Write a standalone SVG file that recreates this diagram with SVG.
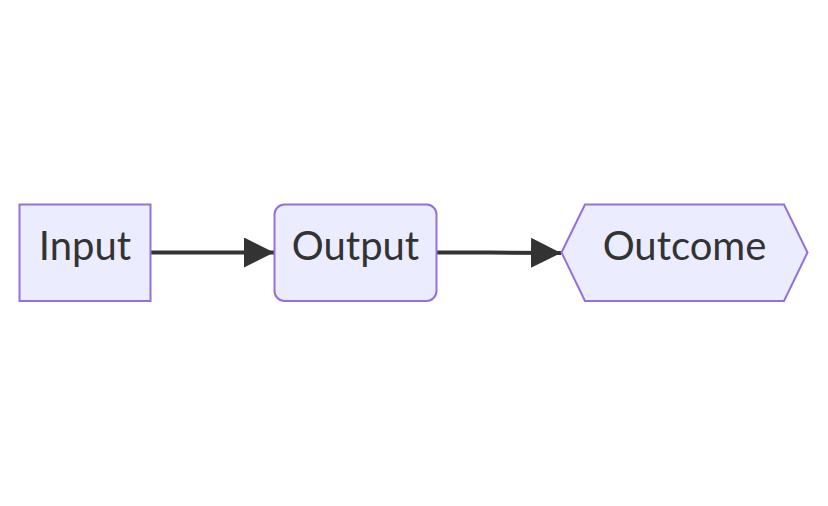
<svg xmlns="http://www.w3.org/2000/svg" width="828" height="506" viewBox="0 0 828 506">
<defs>
<style>
.node{fill:#ECECFF;stroke:#9370DB;stroke-width:2}
.lbl{font-family:Lato,"Liberation Sans",sans-serif;font-size:40px;fill:#333333;text-anchor:middle}
.edge{stroke:#333333;stroke-width:4;fill:none}
</style>
<marker id="arrow" viewBox="0 0 10 10" refX="10" refY="5" markerUnits="userSpaceOnUse" markerWidth="30" markerHeight="30" orient="auto">
<path d="M0,0 L10,5 L0,10 z" fill="#333333"/>
</marker>
</defs>
<rect width="828" height="506" fill="#ffffff"/>
<g id="edges">
<path class="edge" d="M151,252.5 L274,252.5" marker-end="url(#arrow)"/>
<path class="edge" d="M437,252.5 L490,252.5 L561,253" marker-end="url(#arrow)"/>
</g>
<g id="node-input">
<rect class="node" x="19.5" y="204.5" width="131" height="96.5"/>
<text class="lbl" x="85" y="260">Input</text>
</g>
<g id="node-output">
<rect class="node" x="274.5" y="204.5" width="162" height="96.5" rx="10" ry="10"/>
<text class="lbl" x="355.5" y="260">Output</text>
</g>
<g id="node-outcome">
<polygon class="node" points="561.5,252.5 585,204.5 784,204.5 807.5,252.5 784,301 585,301"/>
<text class="lbl" x="684.5" y="260">Outcome</text>
</g>
</svg>
